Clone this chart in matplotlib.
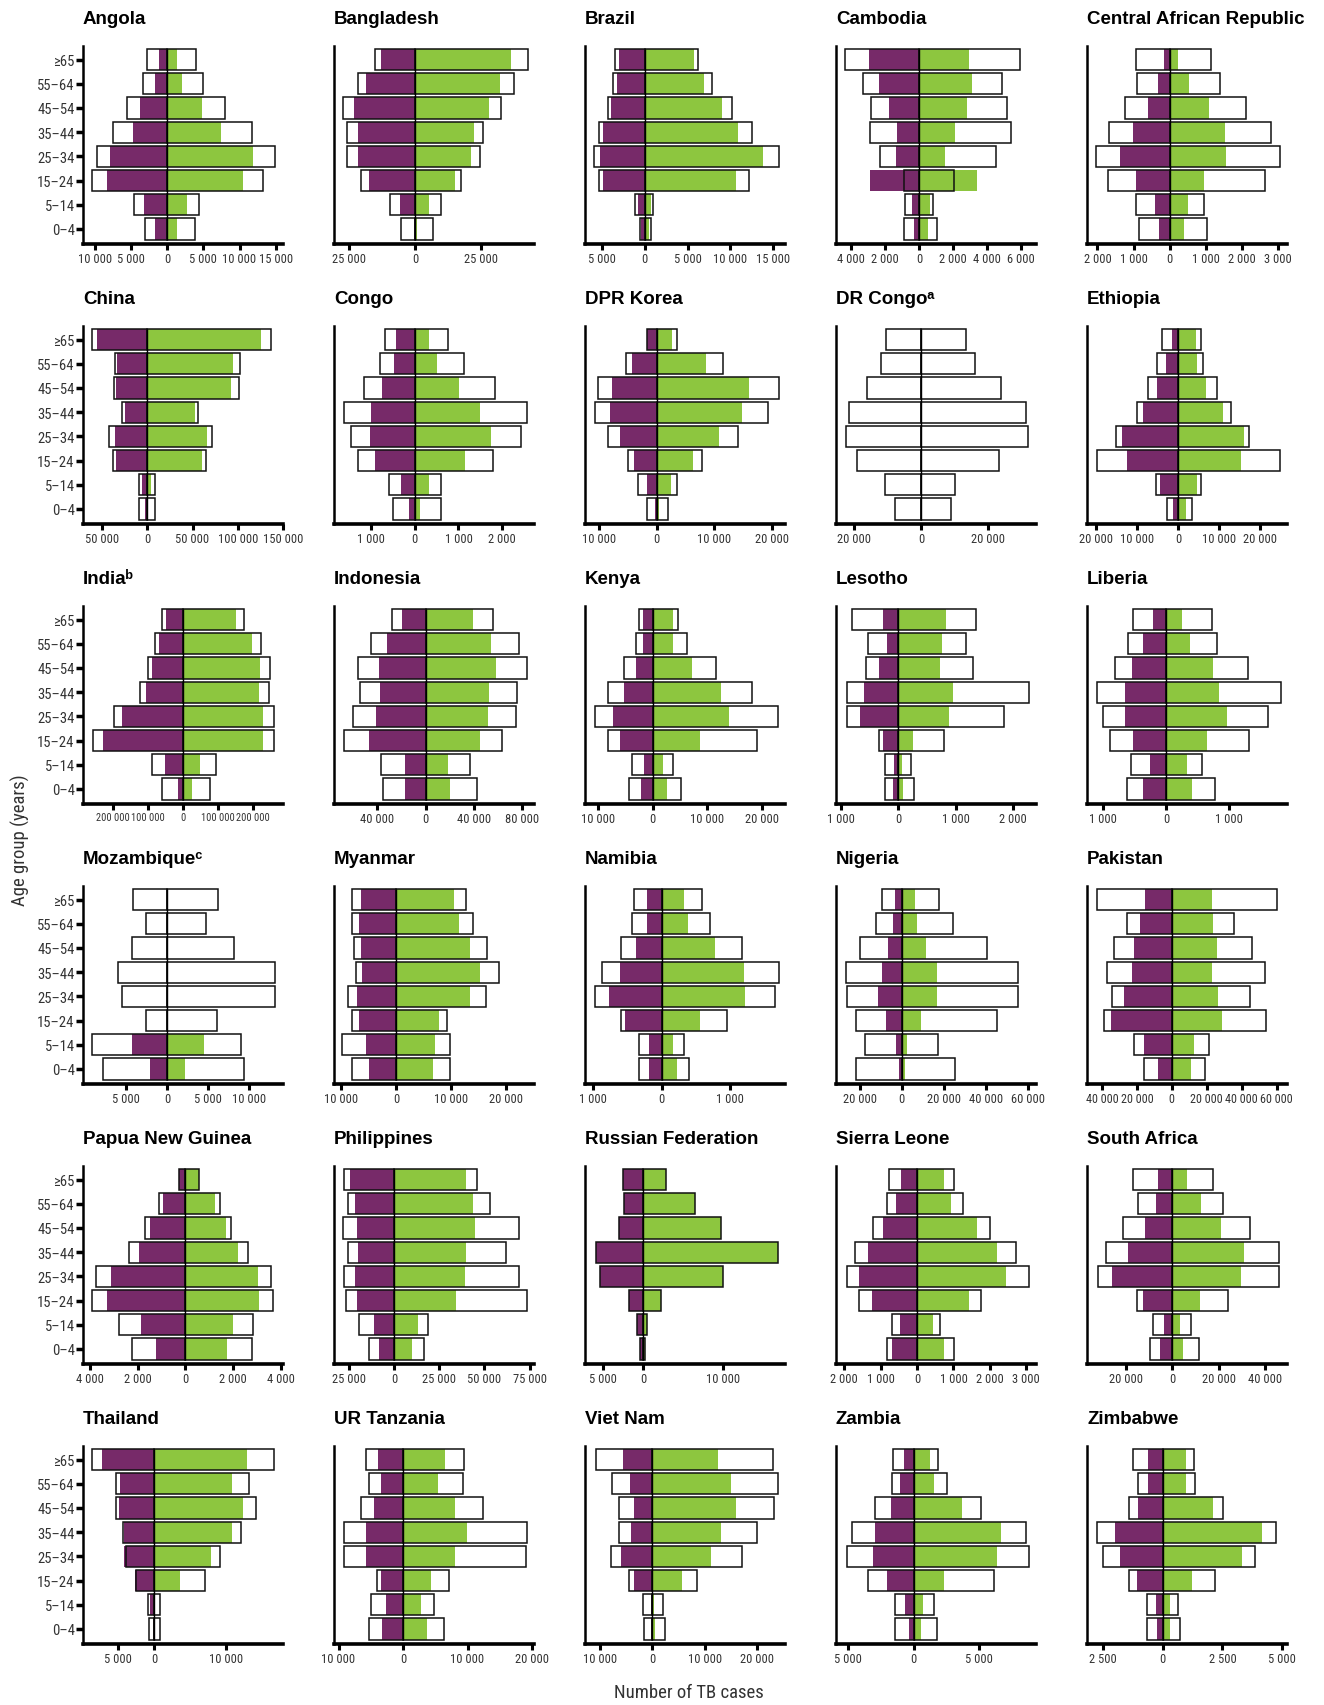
import numpy as np
import matplotlib
matplotlib.use("Agg")
import matplotlib.pyplot as plt
from matplotlib import font_manager
from matplotlib.ticker import FuncFormatter

plt.rcParams["font.family"] = ["Liberation Sans", "DejaVu Sans"]

# look for a condensed face for the tick labels
names = {(f.name, f.stretch) for f in font_manager.fontManager.ttflist}
tick_font = None
for fam, stretch in [("Roboto Condensed", None), ("Liberation Sans Narrow", None),
                     ("DejaVu Sans", "condensed"), ("Open Sans Condensed", None)]:
    if stretch is None and any(n == fam for n, s in names):
        tick_font = dict(family=[fam, "DejaVu Sans"])
        break
    if stretch is not None and (fam, stretch) in names:
        tick_font = dict(family=[fam], stretch=stretch)
        break
if tick_font is None:
    tick_font = dict(family=["Liberation Sans", "DejaVu Sans"])
    xsize, ysize, digit_w = 7.5, 10, 0.556
else:
    xsize, ysize, digit_w = 9, 10.5, 0.49

# age groups, listed top to bottom as in the chart
ages = ["≥65", "55–64", "45–54", "35–44", "25–34", "15–24", "5–14", "0–4"]

countries = ["Angola", "Bangladesh", "Brazil", "Cambodia", "Central African Republic",
             "China", "Congo", "DPR Korea", "DR Congoᵃ", "Ethiopia",
             "Indiaᵇ", "Indonesia", "Kenya", "Lesotho", "Liberia",
             "Mozambiqueᶜ", "Myanmar", "Namibia", "Nigeria", "Pakistan",
             "Papua New Guinea", "Philippines", "Russian Federation", "Sierra Leone", "South Africa",
             "Thailand", "UR Tanzania", "Viet Nam", "Zambia", "Zimbabwe"]

# estimated incidence, females
est_female = [
    [2800, 3300, 5500, 7500, 9600, 10300, 4500, 3100],
    [15200, 21800, 27200, 25600, 25600, 20600, 9500, 5400],
    [3500, 3700, 4300, 5400, 5900, 5400, 1100, 600],
    [4340, 3280, 2800, 2840, 2270, 860, 820, 860],
    [920, 900, 1240, 1680, 2030, 1720, 940, 850],
    [61000, 36000, 37000, 28000, 42000, 38000, 9000, 9000],
    [690, 800, 1170, 1630, 1470, 1300, 590, 500],
    [1700, 5300, 10200, 10600, 8500, 5000, 3300, 1600],
    [10300, 11800, 16200, 21400, 22400, 19200, 10600, 7600],
    [3900, 5100, 7500, 10100, 15200, 19900, 5500, 2800],
    [60000, 79000, 100000, 124000, 198000, 257000, 90000, 60000],
    [27600, 45500, 55900, 54500, 60000, 67600, 36600, 35200],
    [2400, 3100, 5200, 8200, 10500, 8100, 3800, 4300],
    [800, 520, 550, 890, 890, 330, 220, 220],
    [530, 600, 810, 1100, 1010, 890, 560, 620],
    [4100, 2500, 4300, 5900, 5500, 2500, 9100, 7800],
    [8000, 8000, 7700, 7200, 8700, 8100, 9900, 8100],
    [410, 430, 600, 870, 980, 600, 330, 330],
    [9300, 12300, 19800, 26500, 26100, 21600, 17500, 21600],
    [42900, 25700, 33300, 37100, 34300, 39000, 21900, 15700],
    [280, 1110, 1710, 2370, 3760, 3940, 2790, 2260],
    [27600, 25300, 28100, 25300, 27600, 26300, 19400, 13800],
    [2600, 2400, 3000, 5900, 5400, 1800, 800, 400],
    [770, 840, 1200, 1700, 1930, 1590, 680, 840],
    [16800, 15000, 21400, 28600, 32100, 15400, 8200, 9600],
    [8500, 5200, 5300, 4300, 3900, 2500, 800, 700],
    [5700, 5200, 6500, 9200, 9200, 4000, 4900, 5300],
    [10800, 7700, 6400, 6400, 8000, 4500, 1800, 1600],
    [1600, 1650, 3000, 4750, 5130, 3480, 1460, 1460],
    [1220, 1010, 1420, 2740, 2500, 1420, 660, 660],
]

# estimated incidence, males
est_male = [
    [4000, 4900, 8000, 11700, 14900, 13300, 4400, 3800],
    [42700, 37300, 32600, 25600, 24700, 17400, 9800, 6600],
    [6200, 7900, 10200, 12500, 15700, 12200, 900, 700],
    [5900, 4860, 5140, 5400, 4530, 2040, 840, 1070],
    [1140, 1400, 2120, 2820, 3060, 2650, 950, 1040],
    [137000, 103000, 101000, 56000, 72000, 65000, 9000, 9000],
    [770, 1130, 1840, 2580, 2430, 1780, 590, 590],
    [3500, 11500, 21200, 19300, 14000, 7900, 3500, 1900],
    [13500, 16000, 23800, 31200, 31900, 23100, 10100, 8800],
    [5500, 6100, 9500, 12800, 17400, 24900, 5500, 3400],
    [174000, 224000, 248000, 245000, 260000, 260000, 93000, 76000],
    [55900, 77200, 84100, 75900, 74500, 63400, 36600, 42100],
    [4600, 6400, 11600, 18300, 23100, 19100, 3800, 5300],
    [1350, 1180, 1310, 2270, 1850, 800, 220, 270],
    [740, 810, 1300, 1830, 1620, 1320, 580, 780],
    [6200, 4700, 8200, 13100, 13100, 6100, 9000, 9400],
    [12800, 14100, 16700, 18800, 16500, 9400, 9900, 9900],
    [590, 710, 1170, 1710, 1660, 960, 330, 400],
    [17900, 24300, 40700, 55600, 55200, 45500, 17500, 25400],
    [60500, 35700, 46200, 53300, 44800, 53800, 21400, 19000],
    [560, 1460, 1920, 2610, 3590, 3690, 2820, 2790],
    [46100, 53000, 69100, 61800, 69100, 73700, 18900, 16600],
    [2800, 6500, 9700, 16800, 10000, 2200, 400, 200],
    [1020, 1250, 2000, 2730, 3070, 1750, 640, 1020],
    [17500, 21800, 33200, 46000, 45700, 23900, 7900, 11400],
    [16600, 13100, 14100, 12000, 9100, 7000, 800, 800],
    [9400, 9300, 12400, 19200, 19000, 7100, 4800, 6300],
    [23100, 24100, 23300, 20100, 17200, 8600, 2100, 2400],
    [1900, 2530, 5130, 8600, 8800, 6140, 1520, 1770],
    [1320, 1350, 2530, 4720, 3850, 2190, 660, 730],
]

# notified cases, females
notif_female = [
    [1050, 1700, 3800, 4700, 7900, 8300, 3200, 1600],
    [13000, 18700, 23100, 21800, 21800, 17400, 5700, 600],
    [3000, 3300, 3900, 4900, 5300, 4900, 800, 400],
    [2900, 2360, 1750, 1310, 1370, 2860, 400, 270],
    [160, 320, 610, 1010, 1380, 920, 420, 300],
    [55000, 33000, 34000, 25000, 36000, 35000, 5500, 2700],
    [440, 480, 750, 1010, 1030, 900, 310, 130],
    [1600, 4200, 7800, 8100, 6300, 3900, 1600, 300],
    [0, 0, 0, 0, 0, 0, 0, 0],
    [1600, 3000, 5100, 8700, 13800, 12400, 4500, 1200],
    [50000, 69000, 88000, 105000, 174000, 229000, 52000, 14000],
    [19300, 31700, 38600, 37900, 41400, 46900, 17200, 17200],
    [1800, 1700, 3100, 5300, 7300, 6000, 1500, 2100],
    [260, 200, 330, 600, 670, 270, 70, 90],
    [210, 370, 540, 650, 660, 530, 260, 370],
    [0, 0, 0, 0, 0, 0, 4200, 2100],
    [6400, 6700, 6400, 6100, 7100, 6800, 5400, 4900],
    [210, 220, 370, 610, 770, 540, 180, 180],
    [3400, 4100, 6300, 9300, 11200, 7500, 2600, 1500],
    [15200, 18100, 21400, 22900, 27600, 34800, 15700, 8100],
    [280, 940, 1500, 1950, 3140, 3280, 1880, 1250],
    [24400, 21700, 20300, 19800, 21700, 20300, 11100, 8300],
    [2600, 2400, 3000, 5900, 5400, 1800, 800, 400],
    [450, 590, 930, 1360, 1590, 1230, 480, 700],
    [6100, 7100, 11800, 19300, 26100, 12500, 3600, 5400],
    [7200, 4700, 4800, 4100, 4100, 2600, 500, 200],
    [3900, 3400, 4500, 5800, 5800, 3400, 2600, 3200],
    [5700, 4300, 3500, 4100, 6100, 3500, 300, 300],
    [760, 1080, 1770, 2970, 3100, 2030, 700, 380],
    [630, 590, 1010, 2010, 1770, 1080, 280, 240],
]

# notified cases, males
notif_male = [
    [1400, 2000, 4800, 7400, 11900, 10500, 2700, 1400],
    [36400, 32300, 27800, 22200, 21200, 15200, 5100, 600],
    [5700, 6900, 9000, 10900, 13800, 10700, 700, 500],
    [2950, 3090, 2800, 2100, 1540, 3410, 670, 550],
    [240, 530, 1080, 1520, 1570, 950, 510, 410],
    [126000, 95000, 93000, 53000, 66000, 60000, 3600, 1000],
    [330, 500, 1010, 1490, 1740, 1150, 330, 110],
    [2700, 8600, 16000, 14700, 10800, 6200, 2400, 400],
    [0, 0, 0, 0, 0, 0, 0, 0],
    [4300, 4700, 6900, 11000, 16000, 15400, 4500, 1800],
    [152000, 198000, 219000, 217000, 229000, 229000, 50000, 26000],
    [39300, 53800, 58600, 52400, 51700, 44800, 18600, 20000],
    [3700, 3700, 7300, 12500, 14000, 8700, 2000, 2600],
    [830, 760, 730, 960, 890, 260, 70, 90],
    [250, 380, 750, 850, 970, 660, 330, 420],
    [0, 0, 0, 0, 0, 0, 4500, 2200],
    [10600, 11600, 13600, 15400, 13600, 7800, 7100, 6700],
    [320, 380, 780, 1200, 1210, 560, 160, 230],
    [6300, 7100, 11600, 16800, 16800, 9000, 2600, 1500],
    [22900, 23800, 25700, 22900, 26200, 28600, 12900, 11000],
    [560, 1250, 1710, 2230, 3030, 3100, 2020, 1740],
    [39600, 43800, 44700, 39600, 39200, 34100, 13400, 10100],
    [2800, 6500, 9700, 16800, 10000, 2200, 400, 200],
    [730, 930, 1660, 2200, 2450, 1430, 450, 750],
    [6100, 12100, 21100, 30700, 29300, 11800, 3200, 4600],
    [12900, 10800, 12300, 10700, 7900, 3600, 200, 100],
    [6500, 5400, 8100, 9900, 8100, 4400, 2800, 3700],
    [12600, 15000, 16100, 13100, 11200, 5700, 300, 500],
    [1270, 1580, 3670, 6700, 6400, 2340, 700, 570],
    [970, 970, 2120, 4170, 3300, 1220, 310, 310],
]

# axis ranges and tick values per panel
x_limits = [
    (-11600, 16000), (-30700, 45000), (-7000, 16400), (-4860, 6860), (-2290, 3250),
    (-71000, 149000), (-1850, 2730), (-12400, 22200), (-25300, 34200), (-22300, 26600),
    (-286000, 286000), (-75900, 89700), (-12400, 24300), (-1080, 2400), (-1260, 1930),
    (-10200, 14100), (-11300, 25200), (-1120, 1800), (-31300, 64000), (-48600, 66000),
    (-4300, 4100), (-33200, 77400), (-7300, 17700), (-2230, 3270), (-36800, 49300),
    (-9800, 17800), (-10700, 20300), (-12900, 25400), (-5950, 9370), (-3160, 5200),
]
x_ticks = [
    [-10000, -5000, 0, 5000, 10000, 15000], [-25000, 0, 25000], [-5000, 0, 5000, 10000, 15000],
    [-4000, -2000, 0, 2000, 4000, 6000], [-2000, -1000, 0, 1000, 2000, 3000],
    [-50000, 0, 50000, 100000, 150000], [-1000, 0, 1000, 2000], [-10000, 0, 10000, 20000],
    [-20000, 0, 20000], [-20000, -10000, 0, 10000, 20000],
    [-200000, -100000, 0, 100000, 200000], [-40000, 0, 40000, 80000], [-10000, 0, 10000, 20000],
    [-1000, 0, 1000, 2000], [-1000, 0, 1000],
    [-5000, 0, 5000, 10000], [-10000, 0, 10000, 20000], [-1000, 0, 1000],
    [-20000, 0, 20000, 40000, 60000], [-40000, -20000, 0, 20000, 40000, 60000],
    [-4000, -2000, 0, 2000, 4000], [-25000, 0, 25000, 50000, 75000], [-5000, 0, 10000],
    [-2000, -1000, 0, 1000, 2000, 3000], [-20000, 0, 20000, 40000],
    [-5000, 0, 10000], [-10000, 0, 10000, 20000], [-10000, 0, 10000, 20000],
    [-5000, 0, 5000], [-2500, 0, 2500, 5000],
]

purple = "#772a69"
green = "#8dc63f"
W, H = 1324, 1706
AW = 200
fig = plt.figure(figsize=(W / 100, H / 100), dpi=100)


def label(v):
    return f"{abs(int(round(v))):,}".replace(",", " ")


fmt = FuncFormatter(lambda v, p: label(v))
y = np.arange(len(ages))[::-1]
bh = 0.88

for i, name in enumerate(countries):
    r, c = divmod(i, 5)
    left = 83 + c * 251
    top = 47 + r * 280
    ax = fig.add_axes([left / W, 1 - (top + 198) / H, AW / W, 198 / H])

    ef = -np.array(est_female[i])
    em = np.array(est_male[i])
    nf = -np.array(notif_female[i])
    nm = np.array(notif_male[i])

    ax.barh(y, ef, height=bh, color="white", zorder=1)
    ax.barh(y, em, height=bh, color="white", zorder=1)
    ax.barh(y, nf, height=bh, color=purple, zorder=2)
    ax.barh(y, nm, height=bh, color=green, zorder=2)
    ax.barh(y, ef, height=bh, fill=False, edgecolor="#111111", linewidth=1.1, zorder=3)
    ax.barh(y, em, height=bh, fill=False, edgecolor="#111111", linewidth=1.1, zorder=3)
    ax.vlines(0, -bh / 2, 7 + bh / 2, color="black", linewidth=1.0, zorder=4)

    lo, hi = x_limits[i]
    ax.set_xlim(lo, hi)
    ax.set_ylim(-0.62, 7.56)
    ticks = x_ticks[i]
    ax.set_xticks(ticks)
    ax.xaxis.set_major_formatter(fmt)
    ax.tick_params(axis="x", width=2.2, length=4, pad=2, color="black")

    # shrink tick labels where neighbouring labels would collide
    gap_px = AW * min(np.diff(ticks)) / (hi - lo)
    ndig = max(len(label(t).replace(" ", "")) for t in ticks)
    size = min(xsize, (gap_px - 2) / (ndig * digit_w + 0.25) / 1.389)
    for lab in ax.get_xticklabels():
        lab.set(**tick_font, fontsize=size, color="#333333")

    ax.set_yticks(y)
    if c == 0:
        ax.set_yticklabels(ages)
        ax.tick_params(axis="y", width=2.5, length=5, pad=1)
        for lab in ax.get_yticklabels():
            lab.set(**tick_font, fontsize=ysize, color="#333333")
    else:
        ax.set_yticklabels([])
        ax.tick_params(axis="y", length=0)

    for s in ["top", "right"]:
        ax.spines[s].set_visible(False)
    ax.spines["left"].set_linewidth(1.8)
    ax.spines["bottom"].set_linewidth(2.6)

    ax.text(0, 1 + 27 / 198, name, transform=ax.transAxes, ha="left", va="center",
            fontsize=13.5, fontweight="bold", color="black")

fig.text(20 / W, 1 - 840 / H, "Age group (years)", rotation=90, ha="center", va="center",
         fontsize=13.5, color="#333333", **tick_font)
fig.text(689 / W, 1 - 1693 / H, "Number of TB cases", ha="center", va="center",
         fontsize=13.5, color="#333333", **tick_font)

fig.savefig("out.png", dpi=100)
